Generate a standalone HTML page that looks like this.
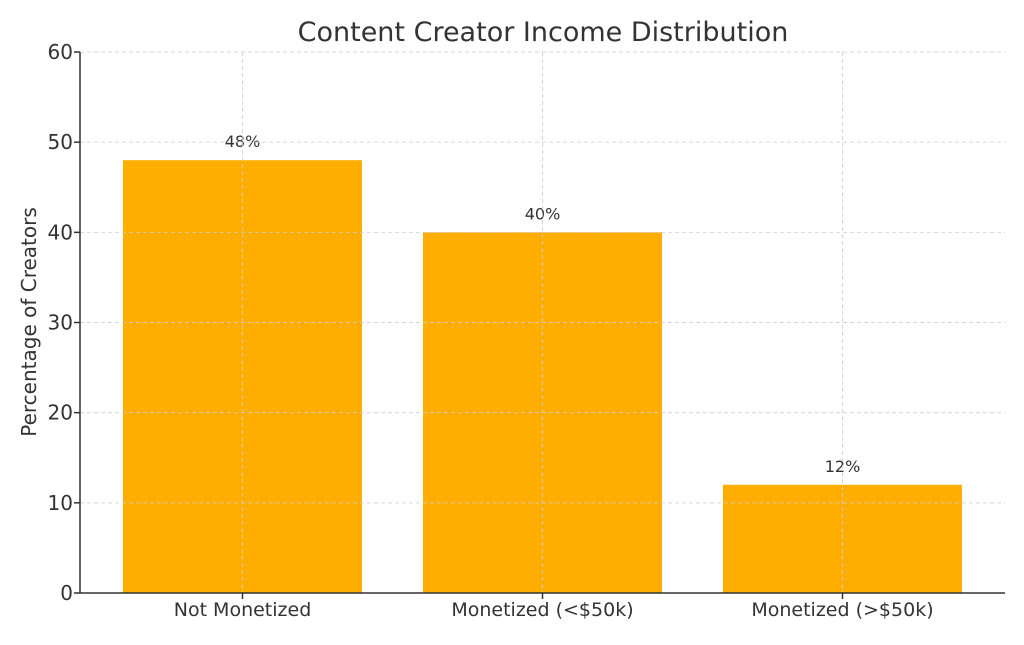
<!DOCTYPE html>
<html><head><meta charset="utf-8"><style>
body{margin:0;background:#fff;}
svg text{font-family:"DejaVu Sans","Liberation Sans",sans-serif;fill:#333;}
</style></head><body>
<svg id="chart" width="1024" height="640" xmlns="http://www.w3.org/2000/svg">
<text x="543" y="41" font-size="27" text-anchor="middle">Content Creator Income Distribution</text>
<text transform="translate(36,322) rotate(-90)" font-size="20" text-anchor="middle">Percentage of Creators</text>
<g id="bars"></g><g id="grid"></g><g id="axes"></g>
</svg>
<script>
const categories = ["Not Monetized", "Monetized (<$50k)", "Monetized (>$50k)"];
const values = [48, 40, 12];
const valueLabels = ["48%", "40%", "12%"];
const yTicks = [0, 10, 20, 30, 40, 50, 60];

const NS = "http://www.w3.org/2000/svg";
const svg = document.getElementById("chart");
const L = 80, R = 1005, T = 52, B = 593;
const yMax = 60;
const y = v => B - (v / yMax) * (B - T);
const band = 300, first = 242.5;
const x = i => first + i * band;
const bw = 239;
function mk(tag, attrs, parent) {
  const e = document.createElementNS(NS, tag);
  for (const k in attrs) e.setAttribute(k, attrs[k]);
  parent.appendChild(e);
  return e;
}
const gb = document.getElementById("bars"), gg = document.getElementById("grid"), ga = document.getElementById("axes");
values.forEach((v, i) => {
  const r = mk("rect", {x: x(i) - bw / 2, y: y(v), width: bw, height: B - y(v), fill: "#FFAE00"}, gb);
  
  
  const t = mk("text", {x: x(i), y: y(v) - 13, "font-size": 16, "text-anchor": "middle"}, gb);
  t.textContent = valueLabels[i];
  
  
  const gl = mk("line", {x1: x(i), x2: x(i), y1: T, y2: B, stroke: "#ccc", "stroke-width": 1, "stroke-dasharray": "4,3", opacity: 0.8}, gg);
  
  
  mk("line", {x1: x(i), x2: x(i), y1: B, y2: B + 6, stroke: "#333", "stroke-width": 1.5}, ga);
  const xl = mk("text", {x: x(i), y: B + 23, "font-size": 19, "text-anchor": "middle"}, ga);
  xl.textContent = categories[i];
  
  
});
yTicks.forEach(v => {
  if (v > 0) {
    const gl = mk("line", {x1: L, x2: R, y1: y(v), y2: y(v), stroke: "#ccc", "stroke-width": 1, "stroke-dasharray": "4,3", opacity: 0.8}, gg);
    
    
  }
  mk("line", {x1: L - 6, x2: L, y1: y(v), y2: y(v), stroke: "#333", "stroke-width": 1.5}, ga);
  const t = mk("text", {x: L - 7, y: y(v) + 7, "font-size": 20, "text-anchor": "end"}, ga);
  t.textContent = v;
  
  
});
const ya = mk("line", {x1: L, x2: L, y1: T, y2: B, stroke: "#333", "stroke-width": 1.5}, ga);


const xa = mk("line", {x1: L, x2: R, y1: B, y2: B, stroke: "#333", "stroke-width": 1.5}, ga);


</script>
</body></html>
